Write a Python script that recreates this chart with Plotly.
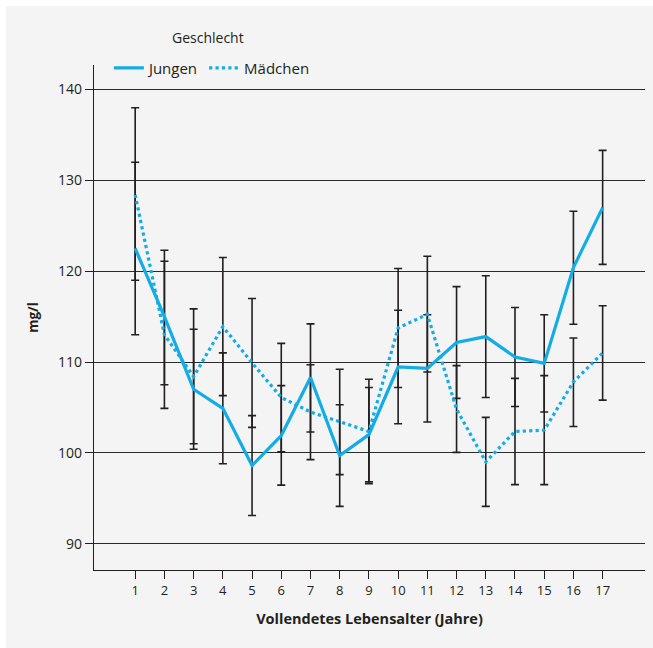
import plotly.graph_objects as go

# Alter in vollendeten Jahren
alter = list(range(1, 18))

# Jungen: Mittelwert mit unterer und oberer Intervallgrenze (mg/l)
jungen_mittel = [122.5, 115.0, 107.0, 104.9, 98.6, 101.9, 108.3, 99.7, 102.0,
                 109.45, 109.3, 112.15, 112.8, 110.55, 109.85, 120.4, 127.0]
jungen_unten = [113.0, 107.5, 100.4, 98.8, 93.1, 96.45, 102.3, 94.1, 96.8,
                103.2, 103.4, 106.0, 106.1, 105.1, 104.5, 114.15, 120.75]
jungen_oben = [132.0, 122.3, 113.6, 111.0, 104.1, 107.4, 114.2, 105.3, 107.2,
               115.7, 115.2, 118.3, 119.5, 116.0, 115.2, 126.6, 133.3]

# Mädchen: Mittelwert mit unterer und oberer Intervallgrenze (mg/l)
maedchen_mittel = [128.4, 113.0, 108.4, 113.9, 109.9, 106.1, 104.5, 103.4, 102.35,
                   113.75, 115.25, 104.8, 99.0, 102.35, 102.5, 107.8, 111.0]
maedchen_unten = [119.0, 104.9, 101.0, 106.3, 102.8, 100.1, 99.25, 97.6, 96.6,
                  107.2, 108.9, 100.05, 94.1, 96.5, 96.5, 102.9, 105.8]
maedchen_oben = [138.0, 121.1, 115.85, 121.5, 117.0, 112.05, 109.7, 109.2, 108.1,
                 120.3, 121.65, 109.6, 103.9, 108.2, 108.5, 112.65, 116.2]

y_ticks = [90, 100, 110, 120, 130, 140]

BLAU = "#12ace6"
SCHWARZ = "#231f20"
FONT = "Open Sans"


def fehler(mittel, unten, oben):
    return dict(
        type="data", symmetric=False,
        array=[o - m for o, m in zip(oben, mittel)],
        arrayminus=[m - u for m, u in zip(mittel, unten)],
        color=SCHWARZ, thickness=1.6, width=4,
    )


fig = go.Figure()

# Fehlerbalken zuerst, damit die Linien darüber liegen
for mittel, unten, oben in [(jungen_mittel, jungen_unten, jungen_oben),
                            (maedchen_mittel, maedchen_unten, maedchen_oben)]:
    fig.add_trace(go.Scatter(
        x=alter, y=mittel, mode="markers",
        marker=dict(size=1, opacity=0),
        error_y=fehler(mittel, unten, oben),
        showlegend=False, hoverinfo="skip",
    ))

fig.add_trace(go.Scatter(
    x=alter, y=jungen_mittel, mode="lines", name="Jungen",
    line=dict(color=BLAU, width=3.2),
))
fig.add_trace(go.Scatter(
    x=alter, y=maedchen_mittel, mode="lines", name="Mädchen",
    line=dict(color=BLAU, width=3.2, dash="dot"),
))

# Graue Hintergrundfläche
fig.add_shape(type="rect", xref="paper", yref="paper",
              x0=-0.16, x1=1.02, y0=-0.16, y1=1.117,
              fillcolor="#f4f4f4", line_width=0, layer="below")

# Legendentitel
fig.add_annotation(text="Geschlecht", xref="paper", yref="paper",
                   x=0.207, y=1.055, xanchor="center", yanchor="middle",
                   showarrow=False,
                   font=dict(family=FONT, size=14, color=SCHWARZ))

fig.update_layout(
    width=653, height=648,
    margin=dict(l=94, r=8, t=65, b=78),
    paper_bgcolor="white",
    plot_bgcolor="rgba(0,0,0,0)",
    font=dict(family=FONT, size=13, color=SCHWARZ),
    legend=dict(
        orientation="h", x=0.027, xanchor="left", y=0.994, yanchor="middle",
        font=dict(family=FONT, size=15, color=SCHWARZ),
        bgcolor="rgba(0,0,0,0)", itemwidth=30, tracegroupgap=0,
    ),
    showlegend=True,
)

fig.update_xaxes(
    range=[-0.41, 18.45], tickmode="array", tickvals=alter,
    ticktext=[str(a) for a in alter],
    showgrid=False, zeroline=False,
    showline=True, linecolor=SCHWARZ, linewidth=1.2,
    ticks="outside", ticklen=8, tickwidth=1.2, tickcolor=SCHWARZ,
    tickfont=dict(family=FONT, size=13, color=SCHWARZ),
    title=dict(text="<b>Vollendetes Lebensalter (Jahre)</b>",
               font=dict(family=FONT, size=14.5, color=SCHWARZ), standoff=16),
)
fig.update_yaxes(
    range=[87.1, 142.7], tickmode="array", tickvals=y_ticks,
    showgrid=True, gridcolor="#2b2b2b", gridwidth=1.1, zeroline=False,
    showline=True, linecolor=SCHWARZ, linewidth=1.2,
    ticks="outside", ticklen=8, tickwidth=1.2, tickcolor=SCHWARZ,
    tickfont=dict(family=FONT, size=14, color=SCHWARZ),
    title=dict(text="<b>mg/l</b>",
               font=dict(family=FONT, size=13.5, color=SCHWARZ), standoff=16),
)

fig.write_html("out.html")
